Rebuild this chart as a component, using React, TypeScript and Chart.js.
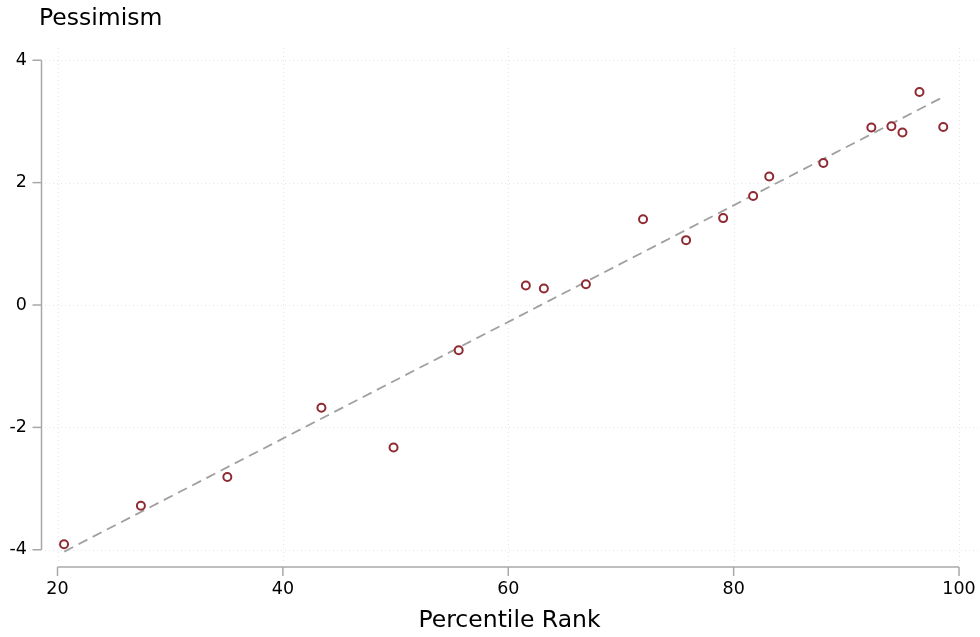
import React, { useEffect, useRef } from "react";
import { Chart, registerables } from "chart.js";

Chart.register(...registerables);

const percentileRank = [20.58, 27.4, 35.07, 43.42, 49.82, 55.6, 61.56, 63.16, 66.89, 71.96, 75.78, 79.07, 81.73, 83.16, 87.96, 92.22, 94.0, 94.98, 96.49, 98.6];
const pessimism = [-3.91, -3.28, -2.81, -1.68, -2.33, -0.74, 0.32, 0.27, 0.34, 1.4, 1.06, 1.42, 1.78, 2.1, 2.32, 2.9, 2.92, 2.82, 3.48, 2.91];
const fitX = [20.6, 98.7];
const fitY = [-4.03, 3.41];
const xTicks = [20, 40, 60, 80, 100];
const yTicks = [-4, -2, 0, 2, 4];
const xTitle = "Percentile Rank";
const yTitle = "Pessimism";

const FONT = "'DejaVu Sans', sans-serif";

const axesPlugin = {
  id: "stataAxes",
  beforeDatasetsDraw(chart: any) {
    const { ctx, chartArea } = chart;
    const xs = chart.scales.x;
    const ys = chart.scales.y;
    ctx.save();
    ctx.strokeStyle = "#e6e6e6";
    ctx.lineWidth = 1;
    ctx.setLineDash([1, 3]);
    for (const v of xTicks) {
      const px = Math.round(xs.getPixelForValue(v)) + 0.5;
      ctx.beginPath();
      ctx.moveTo(px, chartArea.top);
      ctx.lineTo(px, chartArea.bottom);
      ctx.stroke();
    }
    for (const v of yTicks) {
      const py = Math.round(ys.getPixelForValue(v)) + 0.5;
      ctx.beginPath();
      ctx.moveTo(chartArea.left, py);
      ctx.lineTo(980, py);
      ctx.stroke();
    }
    ctx.setLineDash([]);
    ctx.strokeStyle = "#a8a8a8";
    ctx.lineWidth = 1.5;
    // y axis
    const axX = 41.5;
    const yTop = ys.getPixelForValue(yTicks[yTicks.length - 1]);
    const yBot = ys.getPixelForValue(yTicks[0]);
    ctx.beginPath();
    ctx.moveTo(axX, yTop);
    ctx.lineTo(axX, yBot);
    ctx.stroke();
    for (const v of yTicks) {
      const py = ys.getPixelForValue(v);
      ctx.beginPath();
      ctx.moveTo(axX - 9, py);
      ctx.lineTo(axX, py);
      ctx.stroke();
    }
    // x axis
    const axY = 567;
    const xL = xs.getPixelForValue(xTicks[0]);
    const xR = xs.getPixelForValue(xTicks[xTicks.length - 1]);
    ctx.beginPath();
    ctx.moveTo(xL, axY);
    ctx.lineTo(xR, axY);
    ctx.stroke();
    for (const v of xTicks) {
      const px = xs.getPixelForValue(v);
      ctx.beginPath();
      ctx.moveTo(px, axY);
      ctx.lineTo(px, axY + 9);
      ctx.stroke();
    }
    // y title
    ctx.fillStyle = "#000";
    ctx.font = `23.5px ${FONT}`;
    ctx.textAlign = "left";
    ctx.textBaseline = "middle";
    ctx.fillText(yTitle, 39, 18.5);
    ctx.restore();
  },
};

export default function App() {
  const ref = useRef<HTMLCanvasElement | null>(null);
  useEffect(() => {
    if (!ref.current) return;
    const chart = new Chart(ref.current, {
      type: "scatter",
      data: {
        datasets: [
          {
            label: "Pessimism",
            data: percentileRank.map((x, i) => ({ x, y: pessimism[i] })),
            pointRadius: 4,
            pointBorderWidth: 2,
            pointBorderColor: "#8f2a32",
            pointBackgroundColor: "#ffffff",
            showLine: false,
          },
          {
            label: "Fit",
            data: fitX.map((x, i) => ({ x, y: fitY[i] })),
            showLine: true,
            pointRadius: 0,
            borderColor: "#a0a0a0",
            borderWidth: 1.8,
            borderDash: [10, 6],
            fill: false,
          },
        ],
      },
      options: {
        responsive: false,
        animation: false,
        events: [],
        layout: { padding: { top: 48, right: 0, left: 0, bottom: 0 } },
        plugins: { legend: { display: false }, tooltip: { enabled: false }, title: { display: false } },
        scales: {
          x: {
            type: "linear",
            min: 18.89,
            max: 101.33,
            grid: { display: false, drawTicks: false },
            border: { display: false },
            afterBuildTicks: (s: any) => {
              s.ticks = xTicks.map((v) => ({ value: v }));
            },
            afterFit: (s: any) => {
              s.height = 75;
              s.paddingLeft = 0;
              s.paddingRight = 0;
            },
            ticks: { color: "#000", font: { family: FONT, size: 17.5 }, padding: 17, maxRotation: 0, autoSkip: false },
            title: { display: true, text: xTitle, color: "#000", font: { family: FONT, size: 23.5 }, padding: { top: 0, bottom: 2 } },
          },
          y: {
            type: "linear",
            min: -4.2,
            max: 4.2,
            grid: { display: false, drawTicks: false },
            border: { display: false },
            afterBuildTicks: (s: any) => {
              s.ticks = yTicks.map((v) => ({ value: v }));
            },
            afterFit: (s: any) => {
              s.width = 45;
              s.paddingTop = 0;
              s.paddingBottom = 0;
            },
            ticks: { color: "#000", font: { family: FONT, size: 17.5 }, padding: 18, autoSkip: false },
          },
        },
      },
      plugins: [axesPlugin],
    });
    return () => chart.destroy();
  }, []);
  return (
    <div style={{ position: "fixed", left: 0, top: 0, width: 980, height: 637, background: "#fff" }}>
      <canvas ref={ref} width={980} height={637} style={{ width: 980, height: 637, display: "block" }} />
    </div>
  );
}
